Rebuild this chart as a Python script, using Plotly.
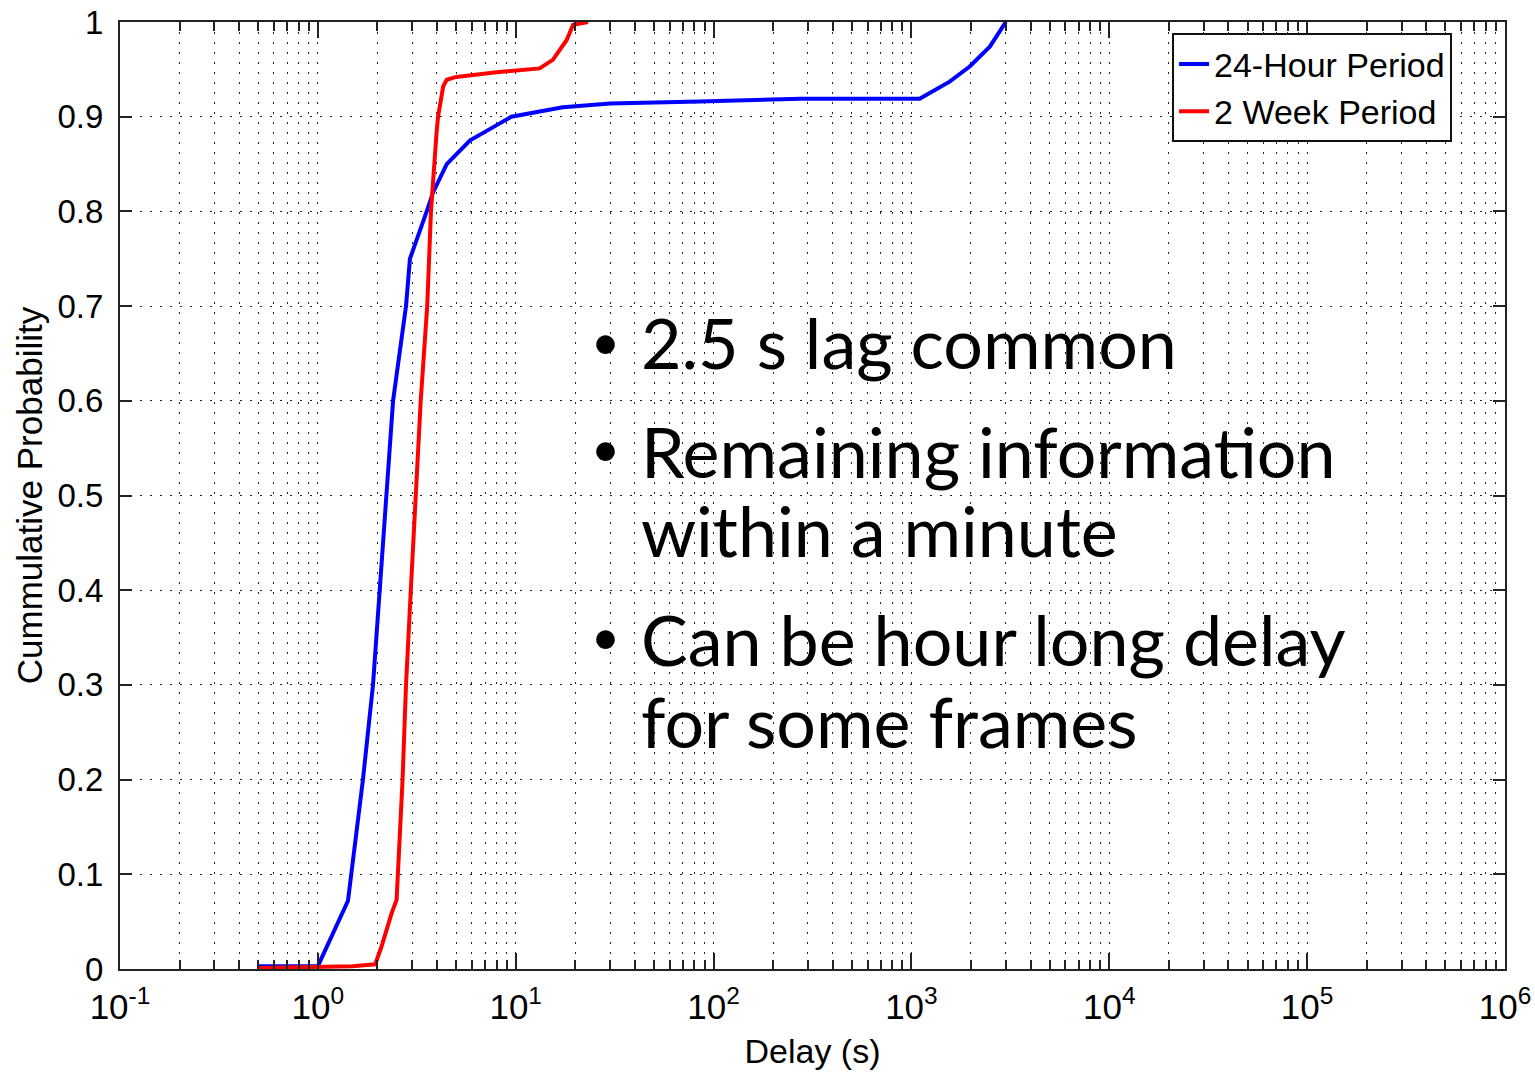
import plotly.graph_objects as go

# ---- data ----
blue_delay = [0.5, 1.0, 1.42, 1.69, 1.90, 2.06, 2.21, 2.40, 2.79, 2.92, 3.55, 3.82,
              4.48, 5.88, 7.7, 9.5, 17.3, 30, 85, 275, 1100, 1560, 1970, 2490, 3000]
blue_prob = [0.003, 0.003, 0.072, 0.2, 0.3, 0.4, 0.5, 0.6, 0.7, 0.75, 0.8, 0.82,
             0.85, 0.875, 0.889, 0.9, 0.91, 0.914, 0.916, 0.919, 0.919, 0.937, 0.953, 0.974, 1.0]

red_delay = [0.5, 1.0, 1.5, 1.95, 2.1, 2.36, 2.5, 2.68, 2.79, 2.95, 3.13, 3.31, 3.57,
             3.73, 3.98, 4.05, 4.30, 4.48, 5.0, 8.0, 13.2, 15.4, 18.1, 19.5, 23.2]
red_prob = [0.001, 0.002, 0.003, 0.005, 0.024, 0.059, 0.073, 0.2, 0.3, 0.4, 0.5, 0.6, 0.7,
            0.8, 0.883, 0.9, 0.932, 0.939, 0.942, 0.947, 0.951, 0.960, 0.981, 0.997, 1.0]

series_names = ["24-Hour Period", "2 Week Period"]
x_exponents = [-1, 0, 1, 2, 3, 4, 5, 6]
x_tick_labels = ["10<sup>%d</sup>" % e for e in x_exponents]
y_ticks = [round(i * 0.1, 1) for i in range(11)]
bullet_lines = [
    ("2.5 s lag common", True),
    ("Remaining information", True),
    ("within a minute", False),
    ("Can be hour long delay", True),
    ("for some frames", False),
]
text_line_y = [0.6620, 0.5470, 0.4636, 0.3485, 0.2619]
bullet_y = [0.6627, 0.5497, None, 0.3512, None]

AX_FAMILY = "Liberation Sans, Arial, sans-serif"
TICK_FONT = dict(family=AX_FAMILY, size=33, color="black")
XTICK_FONT = dict(family=AX_FAMILY, size=35, color="black")
TITLE_FONT = dict(family=AX_FAMILY, size=34, color="black")
YTITLE_FONT = dict(family=AX_FAMILY, size=35, color="black")

fig = go.Figure()
fig.add_trace(go.Scatter(x=blue_delay, y=blue_prob, mode="lines", name=series_names[0],
                         line=dict(color="#0000FF", width=4)))
fig.add_trace(go.Scatter(x=red_delay, y=red_prob, mode="lines", name=series_names[1],
                         line=dict(color="#FF0000", width=4)))

minor_vals = [k * 10 ** d for d in range(-1, 6) for k in range(2, 10)]
grid_style = dict(gridcolor="#222222", gridwidth=1, griddash="2px,8px")

fig.update_xaxes(
    type="log", range=[-1, 6], automargin=False,
    tickvals=[10 ** e for e in x_exponents], ticktext=x_tick_labels,
    showline=True, linecolor="#222222", linewidth=2, mirror="allticks",
    ticks="inside", ticklen=16, tickwidth=1.5, tickcolor="#222222",
    showgrid=True, **grid_style,
    minor=dict(tickvals=minor_vals, ticks="inside", ticklen=9, tickwidth=1.5,
               tickcolor="#222222", showgrid=True, **grid_style),
    tickfont=XTICK_FONT, ticklabelstandoff=6,
    title=dict(text="Delay (s)", font=TITLE_FONT, standoff=14),
    zeroline=False,
)
fig.update_yaxes(
    range=[0, 1], tickvals=y_ticks, ticktext=[("%g" % v) for v in y_ticks], automargin=False,
    showline=True, linecolor="#222222", linewidth=2, mirror="allticks",
    ticks="inside", ticklen=12, tickwidth=1.5, tickcolor="#222222",
    showgrid=True, **grid_style,
    tickfont=TICK_FONT, ticklabelstandoff=8,
    title=dict(text="Cummulative Probability", font=YTITLE_FONT, standoff=4),
    zeroline=False,
)

TXT_FONT = dict(family="Lato, Carlito, Calibri, sans-serif", size=70, color="black")
BUL_FONT = dict(family="Lato, Carlito, Calibri, sans-serif", size=50, color="black")
for (txt, has_bullet), yy, by in zip(bullet_lines, text_line_y, bullet_y):
    fig.add_annotation(xref="paper", yref="paper", x=0.3747, y=yy, text=txt,
                       showarrow=False, xanchor="left", yanchor="middle", font=TXT_FONT)
    if has_bullet:
        fig.add_annotation(xref="paper", yref="paper", x=0.3507, y=by, text="•",
                           showarrow=False, xanchor="center", yanchor="middle", font=BUL_FONT)

fig.update_layout(
    width=1535, height=1073,
    margin=dict(l=120, r=30, t=22, b=104),
    paper_bgcolor="white", plot_bgcolor="white",
    showlegend=True,
    legend=dict(x=0.7596, y=0.988, xanchor="left", yanchor="top",
                bgcolor="white", bordercolor="#111111", borderwidth=2,
                font=dict(family=AX_FAMILY, size=34, color="black")),
)

fig.write_html("out.html")
